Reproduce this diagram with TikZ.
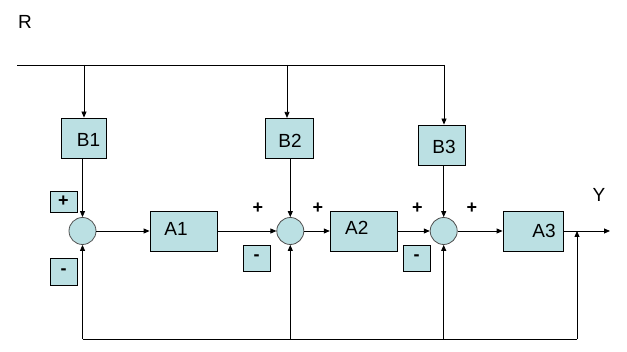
\documentclass[tikz,border=0pt]{standalone}
\usepackage{fontspec}
\setmainfont{Liberation Sans}
\usetikzlibrary{arrows.meta}
\definecolor{boxfill}{RGB}{187,224,227}
\definecolor{ringline}{RGB}{80,80,80}
\tikzset{
  block/.style={draw, fill=boxfill, line width=0.8pt, minimum height=40pt, inner sep=0pt},
  sumnode/.style={circle, draw=ringline, fill=boxfill, line width=0.8pt, minimum size=27pt, inner sep=0pt},
  signbox/.style={draw, fill=boxfill, line width=0.8pt, minimum width=27pt, inner sep=0pt, font=\bfseries\fontsize{18}{20}\selectfont},
  sign/.style={font=\bfseries\fontsize{18}{20}\selectfont, inner sep=0pt},
  flow/.style={-{Triangle[length=6pt,width=5pt]}},
  every node/.style={font=\fontsize{19}{22}\selectfont}
}
\begin{document}
\begin{tikzpicture}[x=1pt, y=-1pt, line width=0.8pt]
\useasboundingbox (0,0) rectangle (627,352);
\node[inner sep=0pt] (rlabel) at (25,21.5) {R};
\node[inner sep=0pt] (ylabel) at (599,194.5) {Y};
\node[block, minimum width=45pt, label={[xshift=5pt, yshift=-1.5pt]center:B1}] (B1) at (83.5,138) {};
\node[block, minimum width=48pt, label={[xshift=1pt, yshift=-3pt]center:B2}] (B2) at (289,138.3) {};
\node[block, minimum width=47pt, label={[xshift=2.3pt, yshift=-1.5pt]center:B3}] (B3) at (441.7,145) {};
\node[sumnode] (sum1) at (82.5,231) {};
\node[sumnode] (sum2) at (290.3,231) {};
\node[sumnode] (sum3) at (443.7,231) {};
\node[block, minimum width=67pt, label={[xshift=-7.5pt, yshift=2.5pt]center:A1}] (A1) at (183.5,231) {};
\node[block, minimum width=67pt, label={[xshift=-7pt, yshift=3.5pt]center:A2}] (A2) at (363.7,231) {};
\node[block, minimum width=60pt, label={[xshift=11pt]center:A3}] (A3) at (533,231) {};
\node[signbox, minimum height=21pt] (plus1) at (63.5,201.5) {+};
\node[signbox, minimum height=27pt] (minus1) at (63.5,271.5) {-};
\node[signbox, minimum height=26pt] (minus2) at (256.5,258) {-};
\node[signbox, minimum height=26pt] (minus3) at (416.5,258) {-};
\node[sign] (plus2) at (258,208.5) {+};
\node[sign] (plus3) at (318,208.5) {+};
\node[sign] (plus4) at (417.5,208.5) {+};
\node[sign] (plus5) at (472,208.5) {+};
\coordinate (rstart) at (17,65);
\coordinate (r1) at (84,65);
\coordinate (r2) at (287,65);
\coordinate (r3) at (444,65);
\coordinate (fb) at (577,339);
\coordinate (yout) at (610,231);
% reference line and B blocks
\draw (rstart) -- (r3);
\draw[flow] (r1) -- (r1 |- B1.north);
\draw[flow] (r2) -- (r2 |- B2.north);
\draw[flow] (r3) -- (r3 |- B3.north);
\draw[flow] (sum1 |- B1.south) -- (sum1.north);
\draw[flow] (sum2 |- B2.south) -- (sum2.north);
\draw[flow] (sum3 |- B3.south) -- (sum3.north);
% forward path
\draw[flow] (sum1) -- (A1);
\draw[flow] (A1) -- (sum2);
\draw[flow] (sum2) -- (A2);
\draw[flow] (A2) -- (sum3);
\draw[flow] (sum3) -- (A3);
\draw[flow] (A3) -- (yout);
% feedback
\draw (sum1 |- fb) -- (fb);
\draw[flow] (fb) -- (fb |- yout);
\draw[flow] (sum1 |- fb) -- (sum1.south);
\draw[flow] (sum2 |- fb) -- (sum2.south);
\draw[flow] (sum3 |- fb) -- (sum3.south);
\end{tikzpicture}
\end{document}
